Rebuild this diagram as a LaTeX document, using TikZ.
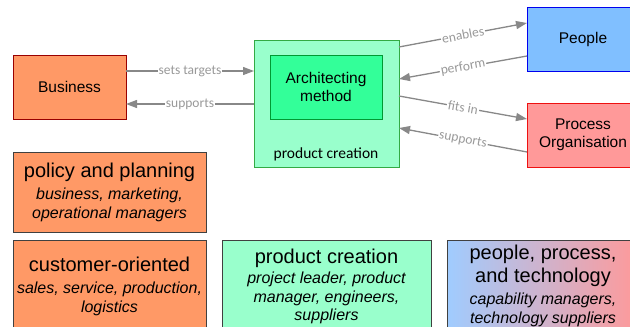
\documentclass[tikz,border=0pt]{standalone}
\usepackage{fontspec}
\setmainfont{Liberation Sans}
\newfontfamily\carlito{Carlito}
\usetikzlibrary{arrows.meta,calc}
\definecolor{orangeF}{HTML}{FF9966}
\definecolor{bizB}{HTML}{990000}
\definecolor{boxB}{HTML}{404040}
\definecolor{lgreen}{HTML}{99FFCC}
\definecolor{lgreenB}{HTML}{33AA44}
\definecolor{mgreen}{HTML}{33FF99}
\definecolor{mgreenB}{HTML}{009933}
\definecolor{blueF}{HTML}{80BFFF}
\definecolor{blueB}{HTML}{0000EE}
\definecolor{redF}{HTML}{FF9999}
\definecolor{redB}{HTML}{EE1111}
\definecolor{lineG}{HTML}{888888}
\definecolor{labG}{HTML}{999999}
\definecolor{gradL}{HTML}{A0CCFF}
\definecolor{gradR}{HTML}{FF9999}
\tikzset{
  box/.style={draw, anchor=north west, inner sep=0pt, outer sep=0pt, align=center, line width=1pt},
  topfont/.style={font=\fontsize{15.5}{18}\selectfont},
  subfont/.style={font=\fontsize{16}{18.5}\selectfont\itshape},
  conn/.style={draw=lineG, line width=1.3pt, -{Triangle[length=11pt,width=8pt]}},
  elab/.style={font=\carlito\fontsize{13.5}{15}\selectfont, text=labG, fill=white, inner sep=1pt, midway, sloped},
}
\newcommand{\ttl}[1]{{\fontsize{20}{22}\selectfont\upshape #1}}
\begin{document}
\begin{tikzpicture}[x=1pt,y=-1pt]
\useasboundingbox (0,0) rectangle (630,327);
% top row
\node[box, topfont, fill=orangeF, draw=bizB, minimum width=113pt, minimum height=64pt] (biz) at (13,55) {Business};
\node[box, fill=lgreen, draw=lgreenB, minimum width=145pt, minimum height=127pt] (pc) at (254,40) {};
\node[box, topfont, fill=mgreen, draw=mgreenB, minimum width=112pt, minimum height=64pt] (am) at (270,55) {Architecting\\method};
\node[font=\carlito\fontsize{15.5}{18}\selectfont, inner sep=0pt] (pclab) at (326,154) {product creation};
\node[box, topfont, fill=blueF, draw=blueB, minimum width=112pt, minimum height=64pt] (people) at (527,7) {People};
\node[box, topfont, fill=redF, draw=redB, minimum width=112pt, minimum height=64pt] (proc) at (527,103) {Process\\Organisation};
% connectors
\draw[conn] ([yshift=16pt]biz.east) -- node[elab]{sets targets} ([yshift=32.5pt]pc.west);
\draw[conn] ([yshift=-0.5pt]pc.west) -- node[elab]{supports} ([yshift=-17pt]biz.east);
\draw[conn] ([yshift=56.5pt]pc.east) -- node[elab]{enables} ([yshift=16pt]people.west);
\draw[conn] ([yshift=-17pt]people.west) -- node[elab]{perform} ([yshift=24.5pt]pc.east);
\draw[conn] ([yshift=7.5pt]pc.east) -- node[elab]{fits in} ([yshift=16pt]proc.west);
\draw[conn] ([yshift=-17pt]proc.west) -- node[elab]{supports} ([yshift=-24.5pt]pc.east);
% bottom boxes
\node[box, subfont, fill=orangeF, draw=boxB, minimum width=193pt, minimum height=80pt] (pp) at (13,152)
  {\ttl{policy and planning}\\[4pt]business, marketing,\\operational managers};
\node[box, subfont, fill=orangeF, draw=boxB, minimum width=193pt, minimum height=92pt] (co) at (13,240)
  {\ttl{customer-oriented}\\[4pt]sales, service, production,\\logistics};
\node[box, subfont, fill=lgreen, draw=boxB, minimum width=209pt, minimum height=93pt] (pcb) at (222,240)
  {\ttl{product creation}\\[2pt]project leader, product\\manager, engineers,\\suppliers};
\node[box, subfont, left color=gradL, right color=gradR, draw=boxB, minimum width=192pt, minimum height=92pt] (ppt) at (447,240)
  {\ttl{people, process,}\\[3pt]\ttl{and technology}\\[4pt]capability managers,\\technology suppliers};
\end{tikzpicture}
\end{document}
